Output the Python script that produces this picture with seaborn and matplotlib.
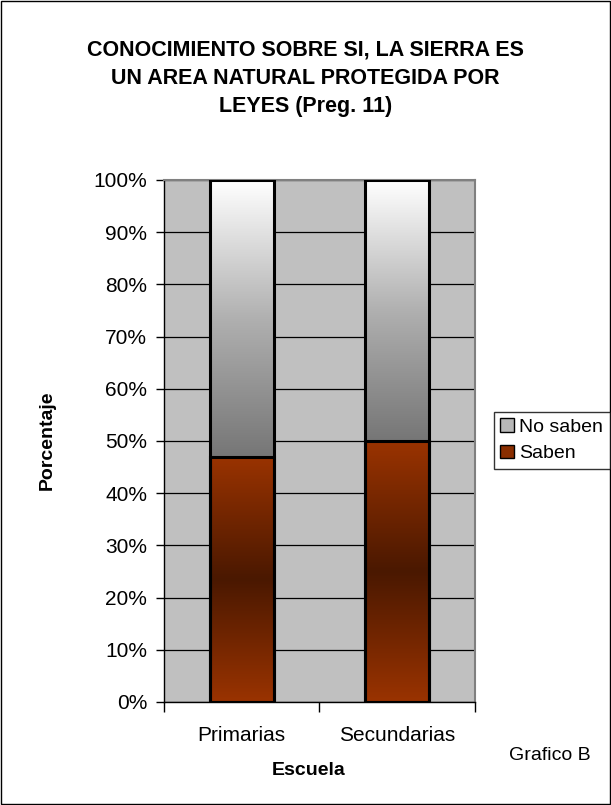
import numpy as np
import pandas as pd
import seaborn as sns
import matplotlib.pyplot as plt
from matplotlib.colors import LinearSegmentedColormap
from matplotlib.patches import Patch, Rectangle

# datos (porcentajes)
escuelas = ['Primarias', 'Secundarias']
saben = [47, 50]
no_saben = [53, 50]
serie_labels = ['No saben', 'Saben']
yticks = list(range(0, 101, 10))

TITLE = 'CONOCIMIENTO SOBRE SI, LA SIERRA ES\nUN AREA NATURAL PROTEGIDA POR\nLEYES (Preg. 11)'

sns.set_style('white')
plt.rcParams['font.family'] = ['Liberation Sans', 'DejaVu Sans']
plt.rcParams['text.color'] = 'black'
plt.rcParams['xtick.color'] = 'black'
plt.rcParams['ytick.color'] = 'black'
plt.rcParams['axes.labelcolor'] = 'black'

df = pd.DataFrame({'escuela': escuelas, 'saben': saben, 'no_saben': no_saben})
df['total'] = df['saben'] + df['no_saben']

fig = plt.figure(figsize=(6.11, 8.05), dpi=100)
ax = fig.add_axes([0.2684, 0.128, 0.509, 0.6484])
ax.set_facecolor('#c0c0c0')

# barras apiladas: total (no saben) detras, saben delante
sns.barplot(data=df, x='escuela', y='total', color='white', width=0.41,
            edgecolor='black', linewidth=2.2, ax=ax, zorder=3)
sns.barplot(data=df, x='escuela', y='saben', color='#993300', width=0.41,
            edgecolor='black', linewidth=2.2, ax=ax, zorder=3)

cm_no = LinearSegmentedColormap.from_list('no', ['#767676', '#b0b0b0', '#ffffff'])
cm_si = LinearSegmentedColormap.from_list('si', ['#9a3300', '#4a1800', '#9a3300'])
grad = np.linspace(0, 1, 256).reshape(-1, 1)

n = len(escuelas)
for i, p in enumerate(ax.patches):
    bb = p.get_bbox()
    if i < n:
        # parte "no saben": desde el tope de saben hasta 100
        y0 = df['saben'].iloc[i]
        cmap = cm_no
    else:
        y0 = bb.y0
        cmap = cm_si
    im = ax.imshow(grad, cmap=cmap, origin='lower', aspect='auto',
                   extent=[bb.x0, bb.x1, y0, bb.y1], zorder=2.5,
                   interpolation='bilinear')
    im.set_clip_path(p)
    p.set_facecolor('none')

ax.set_xlim(-0.5, n - 0.5)
ax.set_ylim(0, 100)
ax.set_yticks(yticks)
ax.set_yticklabels([f'{v}%' for v in yticks], fontsize=15)
ax.yaxis.grid(True, color='black', linewidth=0.9)
ax.set_axisbelow(True)
ax.tick_params(axis='y', length=6, width=1, color='black', direction='out', left=True, pad=6)
ax.set_xticks(range(n))
ax.set_xticklabels(escuelas, fontsize=15)
ax.set_xticks([-0.5, 0.5, 1.5], minor=True)
ax.tick_params(axis='x', which='major', length=0, pad=17)
ax.tick_params(axis='x', which='minor', length=7, width=1, color='black', direction='out', bottom=True)

for side in ['left', 'bottom']:
    ax.spines[side].set_color('black')
    ax.spines[side].set_linewidth(1)
for side in ['top', 'right']:
    ax.spines[side].set_color('#808080')
    ax.spines[side].set_linewidth(1.5)

ax.set_xlabel('')
ax.set_ylabel('')
fig.text(0.077, 0.453, 'Porcentaje', rotation=90, fontsize=14, fontweight='bold',
         ha='center', va='center')
fig.text(0.505, 0.043, 'Escuela', fontsize=14, fontweight='bold', ha='center', va='center')
fig.text(0.9, 0.062, 'Grafico B', fontsize=14, ha='center', va='center')
fig.text(0.5, 0.903, TITLE, fontsize=15.5, fontweight='bold', ha='center', va='center',
         linespacing=1.45)

handles = [Patch(facecolor='#b8b8b8', edgecolor='black', label=serie_labels[0]),
           Patch(facecolor='#8a2e00', edgecolor='black', label=serie_labels[1])]
leg = fig.legend(handles=handles, loc='center left', bbox_to_anchor=(0.808, 0.453),
                 fontsize=14, frameon=True, fancybox=False, edgecolor='black',
                 handlelength=0.7, handleheight=0.7, handletextpad=0.25,
                 borderpad=0.35, labelspacing=0.45, borderaxespad=0)
leg.get_frame().set_linewidth(1)

fig.patches.append(Rectangle((0.0015, 0.0015), 0.997, 0.997, transform=fig.transFigure,
                             fill=False, edgecolor='black', linewidth=1))

fig.savefig('out.png', dpi=100)
